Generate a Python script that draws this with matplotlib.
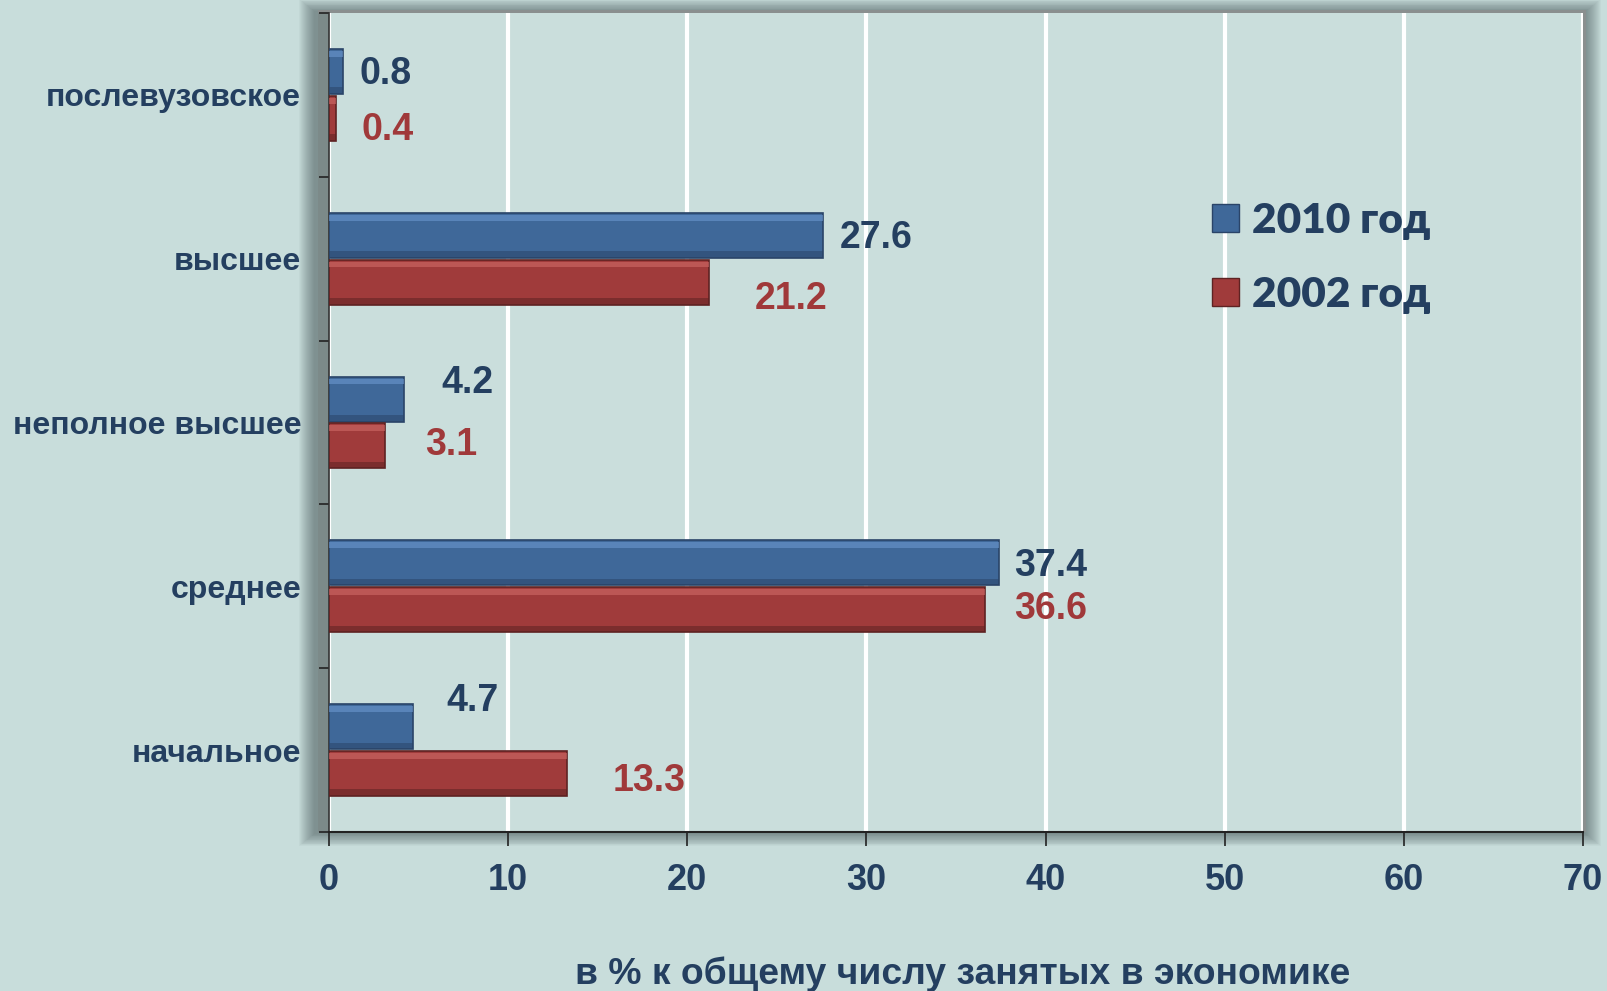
import matplotlib
matplotlib.use("Agg")
import matplotlib.pyplot as plt
from matplotlib.patches import Rectangle, Patch
import numpy as np

categories = ["послевузовское", "высшее", "неполное высшее", "среднее", "начальное"]
values_2010 = [0.8, 27.6, 4.2, 37.4, 4.7]
values_2002 = [0.4, 21.2, 3.1, 36.6, 13.3]
series_names = ["2010 год", "2002 год"]
x_ticks = [0, 10, 20, 30, 40, 50, 60, 70]
x_label = "в % к общему числу занятых в экономике"

# label offsets in pixels from the bar end (dx right, dy up) - placed by hand in Excel
offs_2010 = [(42, -3), (53, -3), (63, 16), (52, -3), (59, 26)]
offs_2002 = [(51, -12), (82, -17), (67, 1), (66, 1), (82, -7)]

BG = "#C8DDDB"
AX_BG = "#CADEDC"
DARK = "#243F60"
RED_TXT = "#A0393A"
BLUE = "#3F6899"
BLUE_HI = "#6C97CF"
BLUE_LO = "#2A4468"
RED = "#A03B3B"
RED_HI = "#D06A68"
RED_LO = "#5E2222"

W, H = 1608, 991
fig = plt.figure(figsize=(W / 100, H / 100), dpi=100, facecolor=BG)

L, R, T, B = 329, 1583, 13, 832
ax = fig.add_axes([L / W, 1 - B / H, (R - L) / W, (B - T) / H])
ax.set_facecolor(AX_BG)


def px_rect(x0, y0, x1, y1, **kw):
    # pixel box (top-left origin) -> figure fraction rectangle
    return Rectangle((x0 / W, 1 - y1 / H), (x1 - x0) / W, (y1 - y0) / H,
                     transform=fig.transFigure, **kw)


# soft shadow round the plot area
for i in range(16):
    fig.add_artist(px_rect(L - 30 + i, T - 14 + i * 0.8, R + 18 - i, B + 14 - i * 0.8,
                           facecolor="#3a4a4a", edgecolor="none", alpha=0.04, zorder=-2))
# 3d-ish wall on the left and top/right rims
fig.add_artist(px_rect(L - 11, T, L, B, facecolor="#7c8a89", edgecolor="none", zorder=-1))
fig.add_artist(px_rect(L - 11, T - 3, R + 3, T, facecolor="#8a8f8f", edgecolor="none", zorder=-1))
fig.add_artist(px_rect(R, T - 3, R + 3, B, facecolor="#8a8f8f", edgecolor="none", zorder=-1))

y = np.arange(len(categories))
h = 0.275
off = 0.143

for vals, sign, c, hi, lo in [(values_2010, -1, BLUE, BLUE_HI, BLUE_LO),
                              (values_2002, 1, RED, RED_HI, RED_LO)]:
    yc = y + sign * off
    ax.barh(yc, vals, height=h, color=c, edgecolor=lo, linewidth=1.2, zorder=3)
    # bevel: light top strip, dark bottom strip
    ax.barh(yc - h / 2 + 0.03, vals, height=0.035, color=hi, alpha=0.6,
            edgecolor="none", zorder=4)
    ax.barh(yc + h / 2 - 0.02, vals, height=0.04, color=lo, alpha=0.55,
            edgecolor="none", zorder=4)

for i in range(len(categories)):
    ax.annotate(f"{values_2010[i]:.1f}", (values_2010[i], y[i] - off),
                xytext=offs_2010[i], textcoords="offset pixels",
                ha="center", va="center", fontsize=27, fontweight="bold",
                color=DARK, family="Liberation Sans", zorder=5)
    ax.annotate(f"{values_2002[i]:.1f}", (values_2002[i], y[i] + off),
                xytext=offs_2002[i], textcoords="offset pixels",
                ha="center", va="center", fontsize=27, fontweight="bold",
                color=RED_TXT, family="Liberation Sans", zorder=5)

ax.set_xlim(0, 70)
ax.set_ylim(len(categories) - 0.5, -0.5)
ax.set_xticks(x_ticks)
ax.set_xticklabels([str(t) for t in x_ticks], fontsize=26, fontweight="bold",
                   color=DARK, family="Liberation Sans")
ax.set_yticks(y)
ax.set_yticklabels(categories, fontsize=23, fontweight="bold", color=DARK,
                   family="Liberation Sans")
ax.set_yticks(np.arange(len(categories) + 1) - 0.5, minor=True)
ax.tick_params(axis="y", which="major", length=0, pad=20)
ax.tick_params(axis="y", which="minor", length=7, width=1.2, color="#222222", direction="out")
ax.tick_params(axis="x", length=10, width=1.2, color="#222222", pad=12)

ax.grid(axis="x", color="white", linewidth=3, zorder=1)
ax.set_axisbelow(True)
for s in ["top", "right"]:
    ax.spines[s].set_visible(False)
ax.spines["left"].set_color("#333333")
ax.spines["left"].set_linewidth(1.2)
ax.spines["bottom"].set_color("#222222")
ax.spines["bottom"].set_linewidth(1.5)

fig.text(963 / W, 1 - 974 / H, x_label, ha="center", va="center",
         fontsize=26.8, fontweight="bold", color=DARK, family="Liberation Sans")

handles = [Patch(facecolor=BLUE, edgecolor=BLUE_LO), Patch(facecolor=RED, edgecolor=RED_LO)]
leg = ax.legend(handles, series_names, loc="upper left",
                bbox_to_anchor=(1182 / W, 1 - 172 / H), bbox_transform=fig.transFigure,
                frameon=False, handlelength=0.65, handleheight=0.65, handletextpad=0.3,
                labelspacing=0.85, borderpad=0.2,
                prop={"family": "Lato", "weight": "heavy", "size": 30.5})
for t in leg.get_texts():
    t.set_color(DARK)

fig.savefig("out.png", dpi=100, facecolor=BG)
